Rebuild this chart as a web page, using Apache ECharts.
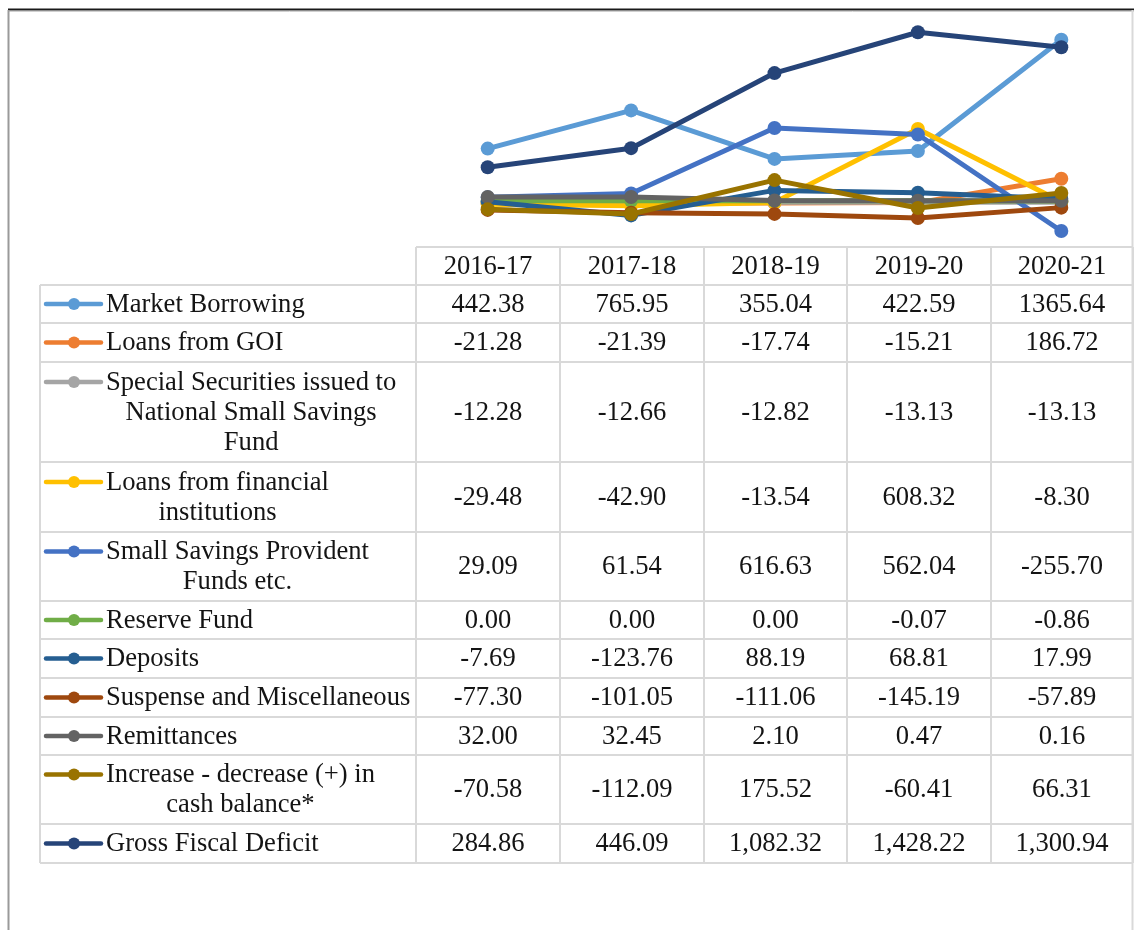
<!DOCTYPE html>
<html>
<head>
<meta charset="utf-8">
<script src="https://cdn.jsdelivr.net/npm/echarts@6/dist/echarts.min.js"></script>
<style>
  html, body { margin: 0; padding: 0; background: #fff; }
  #chart { width: 1134px; height: 930px; }
</style>
</head>
<body>
<div id="chart"></div>
<script>
// ---- data ----
const years = ["2016-17", "2017-18", "2018-19", "2019-20", "2020-21"];

const seriesNames = [
  "Market Borrowing",
  "Loans from GOI",
  "Special Securities issued to National Small Savings Fund",
  "Loans from financial institutions",
  "Small Savings Provident Funds etc.",
  "Reserve Fund",
  "Deposits",
  "Suspense and Miscellaneous",
  "Remittances",
  "Increase - decrease (+) in cash balance*",
  "Gross Fiscal Deficit",
];

// how the names wrap in the table cells
const nameLines = [
  ["Market Borrowing"],
  ["Loans from GOI"],
  ["Special Securities issued to", "National Small Savings", "Fund"],
  ["Loans from financial", "institutions"],
  ["Small Savings Provident", "Funds etc."],
  ["Reserve Fund"],
  ["Deposits"],
  ["Suspense and Miscellaneous"],
  ["Remittances"],
  ["Increase - decrease (+) in", "cash balance*"],
  ["Gross Fiscal Deficit"],
];

const marketBorrowing = [442.38, 765.95, 355.04, 422.59, 1365.64];
const loansGoi = [-21.28, -21.39, -17.74, -15.21, 186.72];
const specialSecurities = [-12.28, -12.66, -12.82, -13.13, -13.13];
const loansFinInst = [-29.48, -42.90, -13.54, 608.32, -8.30];
const smallSavings = [29.09, 61.54, 616.63, 562.04, -255.70];
const reserveFund = [0.00, 0.00, 0.00, -0.07, -0.86];
const deposits = [-7.69, -123.76, 88.19, 68.81, 17.99];
const suspenseMisc = [-77.30, -101.05, -111.06, -145.19, -57.89];
const remittances = [32.00, 32.45, 2.10, 0.47, 0.16];
const cashBalance = [-70.58, -112.09, 175.52, -60.41, 66.31];
const grossFiscalDeficit = [284.86, 446.09, 1082.32, 1428.22, 1300.94];

const seriesValues = [
  marketBorrowing, loansGoi, specialSecurities, loansFinInst, smallSavings,
  reserveFund, deposits, suspenseMisc, remittances, cashBalance, grossFiscalDeficit,
];

// Office palette
const colors = [
  "#5b9bd5", "#ed7d31", "#a5a5a5", "#ffc000", "#4472c4",
  "#70ad47", "#255e91", "#9e480e", "#636363", "#997300", "#264478",
];

// only the last row is printed with thousands separators
const commaRow = 10;

// ---- layout ----
const FONT = "Liberation Serif, Times New Roman, serif";
const FS = 26.6;
const colX = [40, 416, 560, 704, 847, 991, 1133];
const headerTop = 247;
const headerH = 38;
const rowH = [38, 39, 100, 70, 69, 38, 39, 39, 38, 69, 39];
const gridColor = "#d9d9d9";
const textColor = "#141414";

const measureCtx = document.createElement("canvas").getContext("2d");
measureCtx.font = FS + "px " + FONT;

function fmt(v, i) {
  if (i === commaRow) {
    return v.toLocaleString("en-US", { minimumFractionDigits: 2, maximumFractionDigits: 2 });
  }
  return v.toFixed(2);
}

const graphics = [];

// chart frame
graphics.push({ type: "line", shape: { x1: 8, y1: 9.5, x2: 1134, y2: 9.5 }, style: { stroke: "#1a1a1a", lineWidth: 2 } });
graphics.push({ type: "line", shape: { x1: 8, y1: 11.5, x2: 1134, y2: 11.5 }, style: { stroke: "#d0d0d0", lineWidth: 1 } });
graphics.push({ type: "line", shape: { x1: 8.5, y1: 10, x2: 8.5, y2: 930 }, style: { stroke: "#9a9a9a", lineWidth: 2 } });
graphics.push({ type: "line", shape: { x1: 1132.5, y1: 10, x2: 1132.5, y2: 930 }, style: { stroke: "#d9d9d9", lineWidth: 2 } });

// row boundaries
const rowTops = [headerTop + headerH];
rowH.forEach(function (h, i) { rowTops.push(rowTops[i] + h); });
const tableBottom = rowTops[rowTops.length - 1];

// horizontal rules
graphics.push({ type: "line", shape: { x1: colX[1], y1: headerTop, x2: colX[6], y2: headerTop }, style: { stroke: gridColor, lineWidth: 2 } });
rowTops.forEach(function (y) {
  graphics.push({ type: "line", shape: { x1: colX[0], y1: y, x2: colX[6], y2: y }, style: { stroke: gridColor, lineWidth: 2 } });
});
// vertical rules
colX.forEach(function (x, i) {
  graphics.push({
    type: "line",
    shape: { x1: x, y1: i === 0 ? rowTops[0] : headerTop, x2: x, y2: tableBottom },
    style: { stroke: gridColor, lineWidth: 2 },
  });
});

function addText(str, x, y, align) {
  graphics.push({
    type: "text",
    x: x, y: y,
    style: { text: str, fill: textColor, font: FS + "px " + FONT, align: align, verticalAlign: "middle" },
  });
}

// header
years.forEach(function (yr, j) {
  addText(yr, (colX[j + 1] + colX[j + 2]) / 2, headerTop + headerH / 2 + 1, "center");
});

// body rows
const lineGap = 30;
seriesNames.forEach(function (name, i) {
  const top = rowTops[i];
  const mid = top + rowH[i] / 2 + 1;
  const lines = nameLines[i];
  const firstY = mid - (lines.length - 1) * lineGap / 2;
  const textX = 106;
  const w0 = measureCtx.measureText(lines[0]).width;
  lines.forEach(function (ln, k) {
    if (k === 0) addText(ln, textX, firstY, "left");
    else addText(ln, textX + w0 / 2, firstY + k * lineGap, "center");
  });
  // legend key
  const ky = firstY - 1;
  graphics.push({ type: "line", shape: { x1: 46, y1: ky, x2: 101, y2: ky }, style: { stroke: colors[i], lineWidth: 4.5, lineCap: "round" } });
  graphics.push({ type: "circle", shape: { cx: 74, cy: ky, r: 6 }, style: { fill: colors[i] } });
  // values
  seriesValues[i].forEach(function (v, j) {
    addText(fmt(v, i), (colX[j + 1] + colX[j + 2]) / 2, mid, "center");
  });
});

const chart = echarts.init(document.getElementById("chart"), null, { renderer: "canvas" });
chart.setOption({
  animation: false,
  backgroundColor: "#ffffff",
  grid: { left: 416, top: 12, width: 717, height: 236, containLabel: false },
  xAxis: {
    type: "category",
    data: years,
    boundaryGap: true,
    show: false,
  },
  yAxis: {
    type: "value",
    min: -400,
    max: 1600,
    interval: 200,
    show: false,
  },
  series: seriesNames.map(function (name, i) {
    return {
      name: name,
      type: "line",
      data: seriesValues[i],
      symbol: "circle",
      symbolSize: 14,
      lineStyle: { width: 5, color: colors[i] },
      itemStyle: { color: colors[i] },
      z: 2 + i,
    };
  }),
  graphic: graphics,
});
</script>
</body>
</html>
